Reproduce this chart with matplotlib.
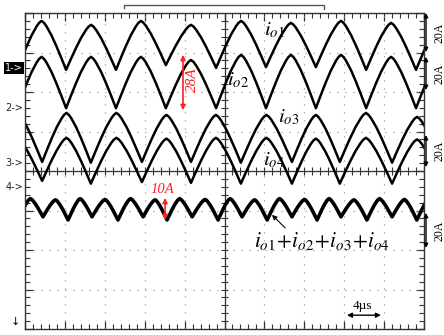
import numpy as np
import matplotlib
matplotlib.use("Agg")
from matplotlib import pyplot as plt

plt.rcParams["mathtext.fontset"] = "stix"

# positions in scope divisions (10 x 8 screen)
# io1 / io2: cusp (trough) times and levels, arch peak levels
t12 = [-0.20, 1.03, 2.28, 3.53, 4.79, 6.04, 7.29, 8.55, 9.80, 11.05]
io1_low = [6.56, 6.56, 6.56, 6.68, 6.61, 6.63, 6.63, 6.56, 6.56, 6.56]
io1_high = [7.80, 7.70, 7.80, 7.70, 7.80, 7.75, 7.80, 7.75, 7.77]
io2_low = [5.59, 5.59, 5.59, 5.59, 5.59, 5.59, 5.59, 5.59, 5.59, 5.59]
io2_high = [6.89, 6.89, 6.89, 6.81, 6.94, 6.94, 6.94, 6.89, 6.89]

# io3 / io4 (shifted half a period)
t34 = [-0.83, 0.43, 1.65, 2.93, 4.16, 5.41, 6.69, 7.89, 9.20, 10.45]
io3_low = [4.23, 4.23, 4.21, 4.23, 4.23, 4.21, 4.23, 4.23, 4.21, 4.23]
io3_high = [5.47, 5.47, 5.47, 5.42, 5.42, 5.42, 5.42, 5.47, 5.37]
io4_low = [3.72, 3.75, 3.68, 3.72, 3.70, 3.68, 3.68, 3.68, 3.68, 3.70]
io4_high = [4.84, 4.84, 4.84, 4.82, 4.84, 4.84, 4.82, 4.84, 4.80]

# io1+io2+io3+io4 (double ripple frequency)
tsum = [-0.80, -0.18, 0.45, 1.08, 1.68, 2.33, 2.96, 3.56, 4.19, 4.84,
        5.44, 6.07, 6.69, 7.32, 7.92, 8.57, 9.20, 9.82, 10.45]
sum_low = [2.84, 2.76, 2.84, 2.76, 2.84, 2.76, 2.84, 2.76, 2.84, 2.76,
           2.84, 2.76, 2.84, 2.76, 2.84, 2.76, 2.84, 2.76, 2.84]
sum_high = [3.28, 3.30, 3.27, 3.30, 3.28, 3.30, 3.27, 3.30, 3.28,
            3.30, 3.27, 3.30, 3.28, 3.30, 3.27, 3.30, 3.28, 3.30]

# shape of one half arch (cusp -> top), fraction of the swing
arch_u = [0.0, 0.2, 0.4, 0.6, 0.8, 0.9, 1.0]
arch_f = [0.0, 0.25, 0.49, 0.71, 0.89, 0.96, 1.0]

# channel markers on the left, scale arrows on the right
markers = ["1->", "2->", "3->", "4->"]
marker_y = [6.61, 5.59, 4.20, 3.59]
scale_y0 = [8.00, 6.89, 4.91, 2.94]
scale_y1 = [7.01, 6.05, 4.10, 2.05]


def build(tc, low, high):
    xs, ys = [], []
    for i in range(len(high)):
        x0, x1 = tc[i], tc[i + 1]
        xm = (x0 + x1) / 2
        for u, f in zip(arch_u, arch_f):
            xs.append(x0 + u * (xm - x0))
            ys.append(low[i] + f * (high[i] - low[i]))
        for u, f in zip(arch_u[::-1][1:], arch_f[::-1][1:]):
            xs.append(x1 - u * (x1 - xm))
            ys.append(low[i + 1] + f * (high[i] - low[i + 1]))
    return xs, ys


fig = plt.figure(figsize=(4.44, 3.35), dpi=100)
ax = fig.add_axes([25 / 444, 6 / 335, 399 / 444, 316 / 335])
ax.set_xlim(0, 10)
ax.set_ylim(0, 8)

# screen grid
for gx in range(1, 10):
    ax.axvline(gx, color="#888888", lw=0.8, ls=(0, (1, 6.2)))
for gy in range(1, 8):
    ax.axhline(gy, color="#888888", lw=0.8, ls=(0, (1, 6.2)))
ax.axvline(5, color="#333333", lw=0.9)
ax.axhline(4, color="#333333", lw=0.9)
mt = np.arange(0, 10.01, 0.2)
ax.vlines(mt, 3.9, 4.1, color="#333333", lw=0.8)
mt = np.arange(0, 8.01, 0.2)
ax.hlines(mt, 4.9, 5.1, color="#333333", lw=0.8)

ax.set_xticks(np.arange(0, 10.01, 1))
ax.set_yticks(np.arange(0, 8.01, 1))
ax.set_xticks(np.arange(0, 10.01, 0.2), minor=True)
ax.set_yticks(np.arange(0, 8.01, 0.2), minor=True)
ax.tick_params(which="both", direction="in", top=True, right=True,
               labelbottom=False, labelleft=False, color="#333333")
ax.tick_params(which="major", length=6, width=0.9)
ax.tick_params(which="minor", length=3.5, width=0.8)
for s in ax.spines.values():
    s.set_color("#333333")
    s.set_linewidth(1.0)

# traces
for tc, lo, hi, lw in [(t12, io1_low, io1_high, 1.8), (t12, io2_low, io2_high, 1.8),
                       (t34, io3_low, io3_high, 1.8), (t34, io4_low, io4_high, 1.8),
                       (tsum, sum_low, sum_high, 2.6)]:
    x, y = build(tc, lo, hi)
    ax.plot(x, y, color="black", lw=lw, solid_joinstyle="round")

# labels
ax.text(6.24, 7.57, r"$i_{o1}$", fontsize=15, ha="center", va="center")
ax.text(5.34, 6.30, r"$i_{o2}$", fontsize=15, ha="center", va="center")
ax.text(6.62, 5.37, r"$i_{o3}$", fontsize=15, ha="center", va="center")
ax.text(6.24, 4.28, r"$i_{o4}$", fontsize=15, ha="center", va="center")
ax.text(7.44, 2.22, r"$i_{o1}\!+\!i_{o2}\!+\!i_{o3}\!+\!i_{o4}$", fontsize=15.5,
        ha="center", va="center")
ax.annotate("", xy=(6.19, 2.89), xytext=(6.52, 2.56),
            arrowprops=dict(arrowstyle="-|>", color="black", lw=0.8,
                            mutation_scale=7, shrinkA=0, shrinkB=0))

# red measurements
red = "#ff2222"
ax.annotate("", xy=(3.96, 6.94), xytext=(3.96, 5.54),
            arrowprops=dict(arrowstyle="<|-|>", color=red, lw=1.2,
                            mutation_scale=7, shrinkA=0, shrinkB=0))
ax.text(4.19, 6.30, "28A", color=red, rotation=90, fontsize=11,
        family="Liberation Serif", style="italic", ha="center", va="center")
ax.annotate("", xy=(3.51, 3.32), xytext=(3.51, 2.76),
            arrowprops=dict(arrowstyle="<|-|>", color=red, lw=1.2,
                            mutation_scale=7, shrinkA=0, shrinkB=0))
ax.text(3.43, 3.54, "10A", color=red, fontsize=10.5,
        family="Liberation Serif", style="italic", ha="center", va="center")

# time scale
ax.annotate("", xy=(8.07, 0.35), xytext=(8.92, 0.35),
            arrowprops=dict(arrowstyle="<|-|>", color="black", lw=1.0,
                            mutation_scale=7, shrinkA=0, shrinkB=0))
ax.text(8.47, 0.58, "4µs", fontsize=9.5, family="Liberation Serif",
        ha="center", va="center")

# right side scale arrows
for y0, y1 in zip(scale_y0, scale_y1):
    ax.annotate("", xy=(10.05, y0), xytext=(10.05, y1), annotation_clip=False,
                arrowprops=dict(arrowstyle="<|-|>", color="black", lw=1.0,
                                mutation_scale=6, shrinkA=0, shrinkB=0))
    ax.text(10.38, (y0 + y1) / 2, "20A", rotation=90, fontsize=8.5,
            family="Liberation Serif", ha="center", va="center", clip_on=False)

# channel markers
for i, (m, my) in enumerate(zip(markers, marker_y)):
    if i == 0:
        ax.text(-0.05, my, m, fontsize=7, color="white", ha="right", va="center",
                bbox=dict(facecolor="black", edgecolor="none", pad=0.8))
    else:
        ax.text(-0.05, my, m, fontsize=7, color="#222222", ha="right", va="center")
ax.text(-0.25, 0.18, "↓", fontsize=8, ha="center", va="center")

# record bracket on top
ax.plot([2.48, 2.48, 7.49, 7.49], [8.12, 8.2, 8.2, 8.1], color="#555555",
        lw=1.0, clip_on=False)

fig.savefig("out.png", dpi=100)
